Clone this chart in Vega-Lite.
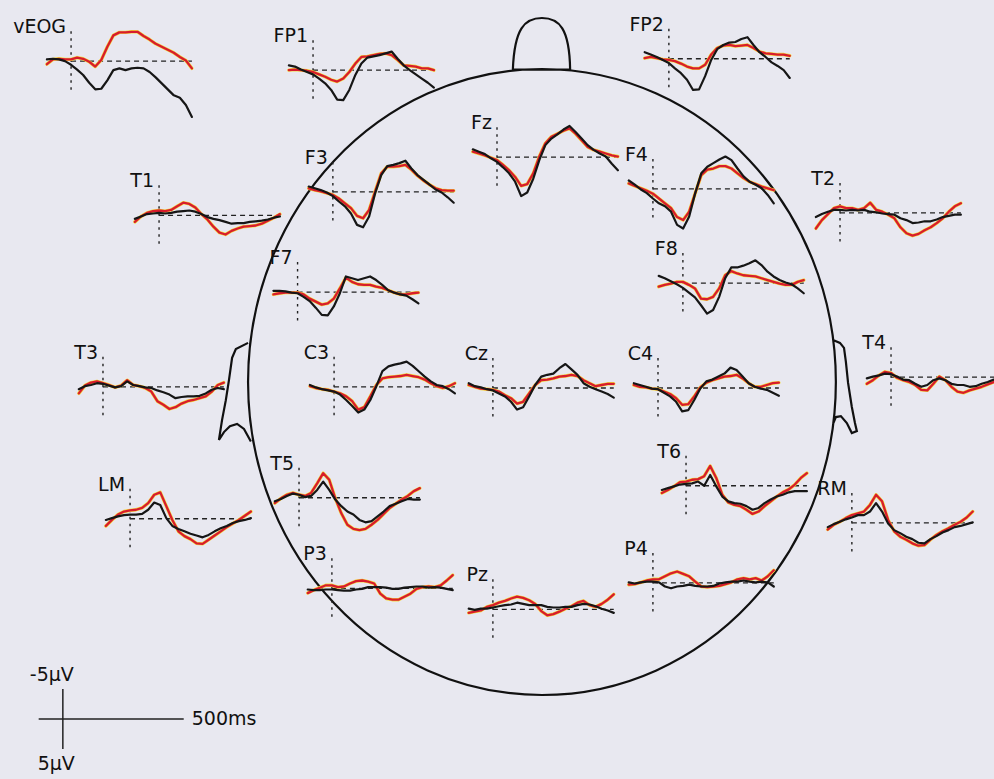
{
  "$schema": "https://vega.github.io/schema/vega-lite/v6.json",
  "width": 994,
  "height": 779,
  "autosize": {"type": "fit", "contains": "padding"},
  "padding": 0,
  "background": "#e8e8f0",
  "config": {"view": {"stroke": null}},
  "datasets": {
    "scalp": [{"x": 0, "y": 0}],
    "sites": [
      {"e": "vEOG", "x0": -1948, "y0": -53.5},
      {"e": "FP1", "x0": -947, "y0": -52.0},
      {"e": "FP2", "x0": 525, "y0": -53.9},
      {"e": "F3", "x0": -865, "y0": -31.7},
      {"e": "Fz", "x0": -186, "y0": -37.5},
      {"e": "F4", "x0": 459, "y0": -32.2},
      {"e": "T1", "x0": -1584, "y0": -27.8},
      {"e": "T2", "x0": 1233, "y0": -28.2},
      {"e": "F7", "x0": -1011, "y0": -15.0},
      {"e": "F8", "x0": 583, "y0": -16.5},
      {"e": "T3", "x0": -1816, "y0": 0.8},
      {"e": "C3", "x0": -860, "y0": 0.8},
      {"e": "Cz", "x0": -203, "y0": 1.0},
      {"e": "C4", "x0": 480, "y0": 1.0},
      {"e": "T4", "x0": 1444, "y0": -0.8},
      {"e": "LM", "x0": -1704, "y0": 22.8},
      {"e": "T5", "x0": -1005, "y0": 19.3},
      {"e": "T6", "x0": 596, "y0": 17.3},
      {"e": "RM", "x0": 1282, "y0": 23.5},
      {"e": "P3", "x0": -869, "y0": 34.4},
      {"e": "Pz", "x0": -203, "y0": 37.9},
      {"e": "P4", "x0": 459, "y0": 33.5}
    ],
    "calibration": [{"x0": -1982, "y0": 56.2}],
    "traces": [
      {"e": "vEOG", "c": "A", "t": [-100,-75,-50,-25,0,25,50,75,100,125,150,175,200,225,250,275,300,325,350,375,400,425,450,475,500], "v": [-0.3,-0.4,-0.3,0,0.6,1.4,2.3,3.6,4.7,4.6,3.2,1.5,1.2,1.5,1.2,1.1,1.2,1.8,2.7,3.7,4.7,5.7,6.1,7.3,9.3]},
      {"e": "vEOG", "c": "B", "t": [-100,-75,-50,-25,0,25,50,75,100,125,150,175,200,225,250,275,300,325,350,375,400,425,450,475,500], "v": [0.5,-0.3,-0.4,-0.3,-0.3,-0.6,-0.4,0.1,0.9,-0.2,-2.4,-4.3,-4.8,-4.8,-4.9,-4.9,-4.2,-3.6,-2.9,-2.4,-1.9,-1.4,-0.7,-0.1,1.2]},
      {"e": "FP1", "c": "A", "t": [-100,-75,-50,-25,0,25,50,75,100,125,150,175,200,225,250,275,300,325,350,375,400,425,450,475,500], "v": [-0.8,-0.6,-0.1,0.3,0.7,1.4,2.2,3.3,4.9,5.0,3.3,0.8,-1.1,-2.1,-2.3,-2.5,-2.8,-3.1,-1.9,-0.8,0,0.7,1.4,2.1,2.9]},
      {"e": "FP1", "c": "B", "t": [-100,-75,-50,-25,0,25,50,75,100,125,150,175,200,225,250,275,300,325,350,375,400,425,450,475,500], "v": [0,-0.1,0,0.1,0.3,0.7,1.1,1.6,1.9,1.4,0.3,-1.1,-2.2,-2.3,-2.5,-2.7,-2.8,-2.5,-1.7,-0.8,-0.7,-0.6,-0.3,-0.3,0]},
      {"e": "FP2", "c": "A", "t": [-100,-75,-50,-25,0,25,50,75,100,125,150,175,200,225,250,275,300,325,350,375,400,425,450,475,500], "v": [-1.1,-0.7,-0.3,0.2,0.7,1.6,2.4,3.5,5.2,5.1,2.9,0.2,-1.6,-2.3,-2.7,-2.8,-3.3,-3.6,-2.3,-1.1,-0.3,0.6,1.2,1.9,3.2]},
      {"e": "FP2", "c": "B", "t": [-100,-75,-50,-25,0,25,50,75,100,125,150,175,200,225,250,275,300,325,350,375,400,425,450,475,500], "v": [-0.1,-0.3,-0.1,0.1,0.2,0.4,0.8,1.3,1.6,1.6,1.0,-0.7,-1.8,-2.2,-2.3,-2.1,-2.2,-2.3,-1.8,-1.2,-0.9,-0.8,-0.7,-0.7,-0.5]},
      {"e": "Fz", "c": "A", "t": [-100,-75,-50,-25,0,25,50,75,100,125,150,175,200,225,250,275,300,325,350,375,400,425,450,475,500], "v": [-1.3,-0.9,-0.5,0.2,0.8,1.7,2.7,4.1,6.5,5.9,3.6,0.5,-2.0,-3.1,-3.8,-4.6,-5.2,-4.2,-3.1,-2.0,-1.2,-0.6,-0.1,1.1,2.2]},
      {"e": "Fz", "c": "B", "t": [-100,-75,-50,-25,0,25,50,75,100,125,150,175,200,225,250,275,300,325,350,375,400,425,450,475,500], "v": [-0.9,-0.6,-0.3,0.1,0.5,1.3,2.2,3.3,4.8,4.5,2.7,-0.1,-2.3,-3.4,-3.9,-4.4,-4.8,-3.9,-2.8,-1.7,-1.2,-0.9,-0.6,-0.3,-0.1]},
      {"e": "F3", "c": "A", "t": [-100,-75,-50,-25,0,25,50,75,100,125,150,175,200,225,250,275,300,325,350,375,400,425,450,475,500], "v": [-0.9,-0.6,-0.3,0.1,0.7,1.6,2.4,3.6,5.5,5.9,4.1,0.2,-2.8,-4.3,-4.5,-4.8,-5.2,-3.9,-2.8,-2.0,-1.2,-0.4,0.1,0.9,1.8]},
      {"e": "F3", "c": "B", "t": [-100,-75,-50,-25,0,25,50,75,100,125,150,175,200,225,250,275,300,325,350,375,400,425,450,475,500], "v": [-0.6,-0.3,-0.1,0.2,0.5,1.1,1.9,2.7,4.0,4.4,3.0,-0.1,-3.1,-4.2,-4.2,-4.3,-4.5,-3.7,-2.7,-1.9,-1.2,-0.6,-0.3,-0.2,-0.2]},
      {"e": "F4", "c": "A", "t": [-100,-75,-50,-25,0,25,50,75,100,125,150,175,200,225,250,275,300,325,350,375,400,425,450,475,500], "v": [-1.4,-0.7,0.1,0.7,1.6,2.4,2.9,3.8,6.0,6.6,4.6,0.7,-2.6,-3.7,-4.3,-4.9,-5.4,-4.8,-3.4,-2.1,-1.2,-0.7,-0.1,1.0,2.4]},
      {"e": "F4", "c": "B", "t": [-100,-75,-50,-25,0,25,50,75,100,125,150,175,200,225,250,275,300,325,350,375,400,425,450,475,500], "v": [-0.9,-0.5,-0.1,0.3,0.8,1.6,2.4,3.2,4.7,5.2,3.8,0.7,-2.3,-3.2,-3.4,-3.8,-3.8,-3.4,-2.6,-1.8,-1.2,-0.8,-0.4,-0.1,0.2]},
      {"e": "T1", "c": "A", "t": [-100,-75,-50,-25,0,25,50,75,100,125,150,175,200,225,250,275,300,325,350,375,400,425,450,475,500], "v": [0.6,0.2,-0.2,-0.3,-0.4,-0.3,-0.4,-0.6,-0.7,-0.8,-0.6,-0.2,0.3,0.6,0.8,1.1,1.4,1.3,1.3,1.1,1.0,0.9,0.7,0.4,0.2]},
      {"e": "T1", "c": "B", "t": [-100,-75,-50,-25,0,25,50,75,100,125,150,175,200,225,250,275,300,325,350,375,400,425,450,475,500], "v": [1.1,0.2,-0.4,-0.7,-0.8,-0.7,-0.9,-1.5,-2.1,-1.9,-1.3,-0.2,0.7,1.9,2.9,3.2,2.6,2.2,1.9,1.8,1.7,1.4,0.9,0.4,-0.2]},
      {"e": "T2", "c": "A", "t": [-100,-75,-50,-25,0,25,50,75,100,125,150,175,200,225,250,275,300,325,350,375,400,425,450,475,500], "v": [0.7,0.2,-0.2,-0.5,-0.5,-0.4,-0.5,-0.4,-0.5,-0.2,-0.1,0.1,0.2,0.3,0.9,1.2,1.7,1.6,1.4,1.4,1.1,0.7,0.5,0.3,0.3]},
      {"e": "T2", "c": "B", "t": [-100,-75,-50,-25,0,25,50,75,100,125,150,175,200,225,250,275,300,325,350,375,400,425,450,475,500], "v": [2.6,1.2,0.2,-0.8,-1.1,-0.8,-0.8,-0.5,-0.8,-1.7,-0.5,-0.2,0.3,0.9,2.4,3.4,3.8,3.5,2.9,2.4,1.7,0.9,-0.2,-1.1,-1.6]},
      {"e": "F7", "c": "A", "t": [-100,-75,-50,-25,0,25,50,75,100,125,150,175,200,225,250,275,300,325,350,375,400,425,450,475,500], "v": [-0.2,-0.2,-0.1,0.1,0.2,0.8,1.5,2.6,3.8,3.9,2.4,0.2,-2.6,-2.3,-2.0,-2.3,-2.6,-2.0,-1.2,-0.3,0.1,0.4,0.6,1.2,1.9]},
      {"e": "F7", "c": "B", "t": [-100,-75,-50,-25,0,25,50,75,100,125,150,175,200,225,250,275,300,325,350,375,400,425,450,475,500], "v": [0.4,0.2,0.1,0.1,0.1,0.4,1.1,1.6,2.1,1.9,1.1,-0.6,-2.4,-1.7,-1.3,-1.2,-1.2,-0.9,-0.7,-0.3,0.1,0.4,0.4,0.2,0.1]},
      {"e": "F8", "c": "A", "t": [-100,-75,-50,-25,0,25,50,75,100,125,150,175,200,225,250,275,300,325,350,375,400,425,450,475,500], "v": [-1.2,-0.8,-0.3,0.2,0.8,1.6,2.4,3.7,5.1,4.5,2.3,-0.8,-2.6,-2.6,-2.9,-3.3,-3.8,-3.0,-1.9,-1.1,-0.5,-0.1,0.2,0.9,1.7]},
      {"e": "F8", "c": "B", "t": [-100,-75,-50,-25,0,25,50,75,100,125,150,175,200,225,250,275,300,325,350,375,400,425,450,475,500], "v": [0.6,0.3,0.1,-0.2,-0.2,0.3,0.9,2.6,2.7,2.3,0.9,-1.3,-2.0,-1.6,-1.3,-1.2,-1.1,-0.8,-0.5,-0.2,0.1,0.3,0.3,-0.2,-0.5]},
      {"e": "T3", "c": "A", "t": [-100,-75,-50,-25,0,25,50,75,100,125,150,175,200,225,250,275,300,325,350,375,400,425,450,475,500], "v": [0.4,-0.1,-0.3,-0.6,-0.5,-0.2,0.1,-0.1,-0.9,-0.3,-0.1,0.1,0.2,0.6,0.9,1.3,1.9,1.7,1.6,1.6,1.5,1.1,0.5,0.2,0.4]},
      {"e": "T3", "c": "B", "t": [-100,-75,-50,-25,0,25,50,75,100,125,150,175,200,225,250,275,300,325,350,375,400,425,450,475,500], "v": [1.1,-0.2,-0.7,-0.9,-0.6,-0.3,0.1,-0.2,-1.1,-0.3,-0.1,0.2,0.8,2.4,3.0,3.7,3.4,2.8,2.4,2.2,1.9,1.6,0.8,-0.3,-0.7]},
      {"e": "C3", "c": "A", "t": [-100,-75,-50,-25,0,25,50,75,100,125,150,175,200,225,250,275,300,325,350,375,400,425,450,475,500], "v": [-0.3,0.1,0.4,0.6,0.8,1.3,2.2,3.2,4.3,3.8,2.2,-0.1,-2.6,-3.4,-3.7,-3.9,-4.2,-3.5,-2.6,-1.7,-0.9,-0.3,-0.1,0.4,1.1]},
      {"e": "C3", "c": "B", "t": [-100,-75,-50,-25,0,25,50,75,100,125,150,175,200,225,250,275,300,325,350,375,400,425,450,475,500], "v": [-0.1,0.2,0.4,0.5,0.8,1.1,1.6,2.4,3.8,3.4,1.6,-0.3,-1.4,-1.6,-1.7,-1.8,-2.0,-1.8,-1.6,-1.2,-0.6,-0.1,0.2,-0.1,-0.6]},
      {"e": "Cz", "c": "A", "t": [-100,-75,-50,-25,0,25,50,75,100,125,150,175,200,225,250,275,300,325,350,375,400,425,450,475,500], "v": [-0.8,-0.3,-0.1,0.2,0.4,0.9,1.4,2.3,3.6,3.2,1.4,-0.5,-1.9,-2.2,-2.4,-3.3,-4.0,-3.1,-2.2,-0.8,-0.2,0.2,0.6,1.0,1.6]},
      {"e": "Cz", "c": "B", "t": [-100,-75,-50,-25,0,25,50,75,100,125,150,175,200,225,250,275,300,325,350,375,400,425,450,475,500], "v": [-0.5,-0.2,0.1,0.2,0.3,0.6,1.2,1.7,2.6,2.3,0.9,-0.5,-1.3,-1.4,-1.6,-1.9,-2.0,-2.2,-2.0,-1.3,-0.8,-0.3,-0.5,-0.7,-0.7]},
      {"e": "C4", "c": "A", "t": [-100,-75,-50,-25,0,25,50,75,100,125,150,175,200,225,250,275,300,325,350,375,400,425,450,475,500], "v": [-0.8,-0.5,-0.2,0.1,0.2,0.8,1.4,2.3,3.9,3.7,2.0,0.1,-1.1,-1.4,-1.9,-2.4,-3.4,-3.0,-1.9,-0.8,-0.2,0.1,0.3,0.8,1.3]},
      {"e": "C4", "c": "B", "t": [-100,-75,-50,-25,0,25,50,75,100,125,150,175,200,225,250,275,300,325,350,375,400,425,450,475,500], "v": [-0.5,-0.2,-0.1,0.1,0.2,0.6,1.0,1.7,2.8,2.7,1.4,-0.1,-0.9,-1.3,-1.6,-1.9,-2.0,-2.2,-1.6,-0.8,-0.2,-0.2,-0.5,-0.8,-0.9]},
      {"e": "T4", "c": "A", "t": [-100,-75,-50,-25,0,25,50,75,100,125,150,175,200,225,250,275,300,325,350,375,400,425,450,475,500], "v": [0.2,-0.1,-0.3,-0.6,-0.5,-0.1,0.4,0.5,1.1,1.6,1.3,0.5,0.2,0.5,1.1,1.3,1.3,1.6,1.5,1.1,0.8,0.4,0.2,0.2,0.2]},
      {"e": "T4", "c": "B", "t": [-100,-75,-50,-25,0,25,50,75,100,125,150,175,200,225,250,275,300,325,350,375,400,425,450,475,500], "v": [1.1,0.5,-0.3,-0.9,-0.7,0.1,0.5,0.8,1.3,2.1,2.2,1.1,-0.1,0.5,1.6,2.4,2.6,2.2,1.9,1.6,1.2,0.8,0.5,0.5,0.5]},
      {"e": "LM", "c": "A", "t": [-100,-75,-50,-25,0,25,50,75,100,125,150,175,200,225,250,275,300,325,350,375,400,425,450,475,500], "v": [0.2,-0.1,-0.4,-0.6,-0.7,-0.7,-0.8,-1.5,-2.7,-2.3,-0.1,1.2,1.7,2.1,2.5,2.8,3.1,2.7,2.1,1.6,1.2,0.7,0.4,0.2,-0.1]},
      {"e": "LM", "c": "B", "t": [-100,-75,-50,-25,0,25,50,75,100,125,150,175,200,225,250,275,300,325,350,375,400,425,450,475,500], "v": [1.2,0.2,-0.7,-1.2,-1.4,-1.5,-1.8,-2.6,-4.0,-4.4,-2.1,0.2,2.1,2.9,3.4,4.1,4.2,3.5,2.8,2.1,1.4,0.8,0.2,-0.5,-1.2]},
      {"e": "T5", "c": "A", "t": [-100,-75,-50,-25,0,25,50,75,100,125,150,175,200,225,250,275,300,325,350,375,400,425,450,475,500], "v": [0.6,0.2,-0.3,-0.7,-0.5,-0.1,-0.3,-1.3,-2.7,-1.3,0.3,1.4,2.3,2.8,3.7,4.1,3.9,3.1,2.3,1.4,1.0,0.6,0.2,0.3,0.3]},
      {"e": "T5", "c": "B", "t": [-100,-75,-50,-25,0,25,50,75,100,125,150,175,200,225,250,275,300,325,350,375,400,425,450,475,500], "v": [0.9,0.1,-0.5,-0.8,-0.5,-0.3,-0.8,-2.4,-4.1,-3.0,0.1,2.6,4.5,5.2,5.4,5.2,4.5,3.7,2.7,1.7,1.0,0.3,-0.3,-1.1,-1.6]},
      {"e": "T6", "c": "A", "t": [-100,-75,-50,-25,0,25,50,75,100,125,150,175,200,225,250,275,300,325,350,375,400,425,450,475,500], "v": [0.7,0.4,0.1,-0.2,-0.3,-0.4,-0.7,0,-1.8,0.1,1.8,2.6,2.9,3.0,3.4,4.0,3.7,2.9,2.3,1.8,1.5,1.1,0.9,0.9,0.9]},
      {"e": "T6", "c": "B", "t": [-100,-75,-50,-25,0,25,50,75,100,125,150,175,200,225,250,275,300,325,350,375,400,425,450,475,500], "v": [1.2,0.7,0.1,-0.6,-0.7,-1.0,-1.1,-1.6,-3.3,-1.3,1.5,2.8,3.2,3.4,4.0,4.7,4.3,3.4,2.6,1.8,1.1,0.6,-0.2,-1.3,-2.1]},
      {"e": "RM", "c": "A", "t": [-100,-75,-50,-25,0,25,50,75,100,125,150,175,200,225,250,275,300,325,350,375,400,425,450,475,500], "v": [0.7,0.2,-0.2,-0.6,-0.9,-1.3,-1.3,-1.9,-3.3,-1.9,0.1,1.2,1.7,2.3,2.7,3.3,3.4,2.7,2.2,1.6,1.2,0.7,0.5,0.2,-0.1]},
      {"e": "RM", "c": "B", "t": [-100,-75,-50,-25,0,25,50,75,100,125,150,175,200,225,250,275,300,325,350,375,400,425,450,475,500], "v": [1.1,0.3,-0.2,-0.8,-1.3,-1.6,-1.9,-3.0,-4.7,-3.6,-0.5,1.4,2.3,2.8,3.4,3.8,3.7,2.8,2.0,1.4,0.9,0.3,-0.2,-0.9,-1.9]},
      {"e": "P3", "c": "A", "t": [-100,-75,-50,-25,0,25,50,75,100,125,150,175,200,225,250,275,300,325,350,375,400,425,450,475,500], "v": [0.2,0.3,0.3,0.2,0.2,0.3,0.4,0.4,0.2,0.1,-0.2,-0.2,-0.2,-0.1,0.1,0.1,-0.1,-0.2,-0.3,-0.3,-0.1,-0.2,-0.1,0.1,0.3]},
      {"e": "P3", "c": "B", "t": [-100,-75,-50,-25,0,25,50,75,100,125,150,175,200,225,250,275,300,325,350,375,400,425,450,475,500], "v": [0.8,0.3,-0.1,-0.5,-0.5,-0.2,-0.3,-0.8,-1.2,-1.3,-1.1,-0.8,0.9,1.7,1.9,1.9,1.4,0.9,0.1,-0.2,-0.3,-0.2,-0.5,-1.3,-2.2]},
      {"e": "Pz", "c": "A", "t": [-100,-75,-50,-25,0,25,50,75,100,125,150,175,200,225,250,275,300,325,350,375,400,425,450,475,500], "v": [-0.1,0.1,-0.1,-0.1,-0.3,-0.5,-0.7,-0.8,-1.1,-0.9,-0.7,-0.7,-0.7,-0.4,-0.3,-0.3,-0.4,-0.4,-0.7,-0.9,-0.8,-0.5,-0.1,0.2,0.6]},
      {"e": "Pz", "c": "B", "t": [-100,-75,-50,-25,0,25,50,75,100,125,150,175,200,225,250,275,300,325,350,375,400,425,450,475,500], "v": [0.6,0.4,0.2,-0.4,-0.7,-1.1,-1.4,-1.8,-2.1,-1.9,-1.5,-0.9,0.3,1.0,0.8,0.4,-0.1,-0.5,-1.1,-1.4,-0.7,-0.4,-0.9,-1.6,-2.5]},
      {"e": "P4", "c": "A", "t": [-100,-75,-50,-25,0,25,50,75,100,125,150,175,200,225,250,275,300,325,350,375,400,425,450,475,500], "v": [-0.1,0.1,-0.1,-0.2,-0.2,-0.1,0.6,0.9,0.6,0.5,0.3,0.5,0.6,0.6,0.5,0.1,-0.1,-0.2,-0.2,-0.4,-0.2,-0.1,-0.2,-0.1,0.6]},
      {"e": "P4", "c": "B", "t": [-100,-75,-50,-25,0,25,50,75,100,125,150,175,200,225,250,275,300,325,350,375,400,425,450,475,500], "v": [0.3,0.2,-0.1,-0.4,-0.6,-0.6,-1.1,-1.6,-1.9,-1.5,-1.1,-0.2,0.6,0.7,0.6,0.5,0.2,-0.1,-0.6,-0.8,-0.6,-0.8,-0.4,-1.1,-2.1]}
    ]
  },
  "encoding": {
    "x": {"field": "x", "type": "quantitative", "scale": {"domain": [-2242, 1870], "nice": false, "zero": false}, "axis": null},
    "y": {"field": "y", "type": "quantitative", "scale": {"domain": [-63.7, 66.2], "nice": false, "zero": false, "reverse": true}, "axis": null}
  },
  "layer": [
    {
      "data": {"name": "scalp"},
      "mark": {
        "type": "point",
        "shape": "M0,-1C0.5186,-1 0.939,-0.5523 0.939,0C0.939,0.5523 0.5186,1 0,1C-0.5186,1 -0.939,0.5523 -0.939,0C-0.939,-0.5523 -0.5186,-1 0,-1Z M-0.093,-0.998C-0.088,-1.13 -0.055,-1.163 0,-1.163C0.055,-1.163 0.088,-1.13 0.09,-0.998Z M-0.939,-0.125L-0.978,-0.105L-0.99,-0.077L-1,-0.006L-1.01,0.058L-1.022,0.121L-1.032,0.185L-1.016,0.16L-0.997,0.141L-0.974,0.134L-0.952,0.15L-0.93,0.19 M0.93,-0.134L0.952,-0.125L0.965,-0.109L0.971,-0.064L0.978,0.003L0.99,0.08L1,0.131L1.006,0.157L0.99,0.163L0.974,0.131L0.955,0.109L0.939,0.112L0.93,0.134",
        "size": 391876,
        "filled": false,
        "stroke": "#111111",
        "strokeWidth": 2.2,
        "opacity": 1
      }
    },
    {
      "data": {"name": "sites"},
      "transform": [
        {"calculate": "datum.x0", "as": "x"},
        {"calculate": "datum.y0 - 5", "as": "y"},
        {"calculate": "datum.y0 + 5", "as": "y2"}
      ],
      "mark": {"type": "rule", "stroke": "#222222", "strokeWidth": 1.4, "strokeDash": [2.5, 4.5]},
      "encoding": {"y2": {"field": "y2"}}
    },
    {
      "data": {"name": "sites"},
      "transform": [
        {"calculate": "datum.x0", "as": "x"},
        {"calculate": "datum.x0 + 500", "as": "x2"},
        {"calculate": "datum.y0", "as": "y"}
      ],
      "mark": {"type": "rule", "stroke": "#222222", "strokeWidth": 1.3, "strokeDash": [5, 4], "clip": true},
      "encoding": {"x2": {"field": "x2"}}
    },
    {
      "data": {"name": "traces"},
      "transform": [
        {"filter": "datum.c === 'B'"},
        {"flatten": ["t", "v"]},
        {"lookup": "e", "from": {"data": {"name": "sites"}, "key": "e", "fields": ["x0", "y0"]}},
        {"calculate": "datum.x0 + datum.t", "as": "x"},
        {"calculate": "datum.y0 + datum.v", "as": "y"}
      ],
      "mark": {"type": "line", "stroke": "#f4d83c", "strokeWidth": 3.4, "strokeJoin": "round", "strokeCap": "round", "clip": true},
      "encoding": {"detail": {"field": "e"}}
    },
    {
      "data": {"name": "traces"},
      "transform": [
        {"filter": "datum.c === 'B'"},
        {"flatten": ["t", "v"]},
        {"lookup": "e", "from": {"data": {"name": "sites"}, "key": "e", "fields": ["x0", "y0"]}},
        {"calculate": "datum.x0 + datum.t", "as": "x"},
        {"calculate": "datum.y0 + datum.v", "as": "y"}
      ],
      "mark": {"type": "line", "stroke": "#d81c2c", "strokeWidth": 2.3, "strokeJoin": "round", "strokeCap": "round", "clip": true},
      "encoding": {"detail": {"field": "e"}}
    },
    {
      "data": {"name": "traces"},
      "transform": [
        {"filter": "datum.c === 'A'"},
        {"flatten": ["t", "v"]},
        {"lookup": "e", "from": {"data": {"name": "sites"}, "key": "e", "fields": ["x0", "y0"]}},
        {"calculate": "datum.x0 + datum.t", "as": "x"},
        {"calculate": "datum.y0 + datum.v", "as": "y"}
      ],
      "mark": {"type": "line", "stroke": "#161616", "strokeWidth": 2.2, "strokeJoin": "round", "strokeCap": "round", "clip": true},
      "encoding": {"detail": {"field": "e"}}
    },
    {
      "data": {"name": "sites"},
      "transform": [
        {"calculate": "datum.x0", "as": "x"},
        {"calculate": "datum.y0", "as": "y"}
      ],
      "mark": {"type": "text", "align": "right", "baseline": "middle", "dx": -5, "dy": -34, "font": "DejaVu Sans", "fontSize": 19, "fill": "#111111"},
      "encoding": {"text": {"field": "e"}}
    },
    {
      "data": {"name": "calibration"},
      "transform": [
        {"calculate": "datum.x0 - 100", "as": "x"},
        {"calculate": "datum.x0 + 500", "as": "x2"},
        {"calculate": "datum.y0", "as": "y"}
      ],
      "mark": {"type": "rule", "stroke": "#222222", "strokeWidth": 1.5},
      "encoding": {"x2": {"field": "x2"}}
    },
    {
      "data": {"name": "calibration"},
      "transform": [
        {"calculate": "datum.x0", "as": "x"},
        {"calculate": "datum.y0 - 5", "as": "y"},
        {"calculate": "datum.y0 + 5", "as": "y2"}
      ],
      "mark": {"type": "rule", "stroke": "#222222", "strokeWidth": 1.5},
      "encoding": {"y2": {"field": "y2"}}
    },
    {
      "data": {"name": "calibration"},
      "transform": [
        {"calculate": "datum.x0", "as": "x"},
        {"calculate": "datum.y0 - 5", "as": "y"}
      ],
      "mark": {"type": "text", "align": "right", "baseline": "middle", "dx": 11, "dy": -14, "font": "DejaVu Sans", "fontSize": 19, "fill": "#111111"},
      "encoding": {"text": {"value": "-5µV"}}
    },
    {
      "data": {"name": "calibration"},
      "transform": [
        {"calculate": "datum.x0", "as": "x"},
        {"calculate": "datum.y0 + 5", "as": "y"}
      ],
      "mark": {"type": "text", "align": "right", "baseline": "middle", "dx": 12, "dy": 15, "font": "DejaVu Sans", "fontSize": 19, "fill": "#111111"},
      "encoding": {"text": {"value": "5µV"}}
    },
    {
      "data": {"name": "calibration"},
      "transform": [
        {"calculate": "datum.x0 + 500", "as": "x"},
        {"calculate": "datum.y0", "as": "y"}
      ],
      "mark": {"type": "text", "align": "left", "baseline": "middle", "dx": 8, "font": "DejaVu Sans", "fontSize": 19, "fill": "#111111"},
      "encoding": {"text": {"value": "500ms"}}
    }
  ]
}
